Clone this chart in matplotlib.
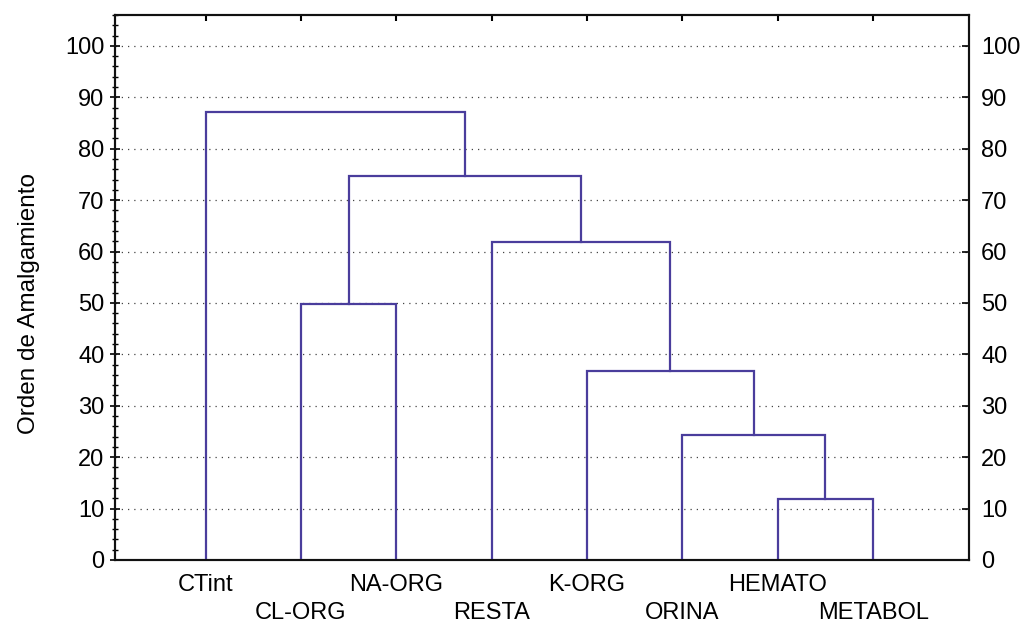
import matplotlib
matplotlib.use("Agg")
import matplotlib.pyplot as plt
from matplotlib.ticker import MultipleLocator

plt.rcParams["font.family"] = ["Liberation Sans", "DejaVu Sans"]

# leaves in dendrogram order
leaves = ["CTint", "CL-ORG", "NA-ORG", "RESTA", "K-ORG", "ORINA", "HEMATO", "METABOL"]
# merges: (left node, right node); nodes 0-7 are leaves, 8+ are new clusters
merges = [(6, 7), (5, 8), (4, 9), (1, 2), (3, 10), (11, 12), (0, 13)]
merge_heights = [11.8, 24.3, 36.8, 49.7, 61.8, 74.6, 87.2]
y_ticks = [0, 10, 20, 30, 40, 50, 60, 70, 80, 90, 100]
y_label = "Orden de Amalgamiento"

line_color = "#4a3d9c"

fig = plt.figure(figsize=(10.26, 6.25), dpi=100)
ax = fig.add_axes([0.112, 0.104, 0.832, 0.872])

pos = {i: i + 1 for i in range(len(leaves))}
height = {i: 0.0 for i in range(len(leaves))}
for k, ((a, b), h) in enumerate(zip(merges, merge_heights)):
    node = len(leaves) + k
    ax.plot([pos[a], pos[a], pos[b], pos[b]], [height[a], h, h, height[b]],
            color=line_color, lw=1.6, solid_joinstyle="miter", zorder=3)
    pos[node] = (pos[a] + pos[b]) / 2
    height[node] = h

ax.set_xlim(0.05, 9.0)
ax.set_ylim(0, 106)

# dotted grid
for y in y_ticks[1:]:
    ax.axhline(y, color="#444444", lw=0.9, ls=(0, (1, 4)), zorder=1)

ax.set_yticks(y_ticks)
ax.yaxis.set_minor_locator(MultipleLocator(2))
ax.tick_params(axis="y", which="major", direction="inout", length=7, width=1.2,
               labelsize=17, pad=4)
ax.tick_params(axis="y", which="minor", direction="inout", length=4, width=1.0)

ax.set_xticks(range(1, len(leaves) + 1))
ax.set_xticklabels(leaves, fontsize=17)
ax.tick_params(axis="x", bottom=False, top=True, direction="in", length=4, width=1.5)
for i, t in enumerate(ax.xaxis.get_major_ticks()):
    t.set_pad(10 if i % 2 == 0 else 30)

ax.set_ylabel(y_label, fontsize=17.5)
ax.yaxis.set_label_coords(-0.088, 0.47)

ax2 = ax.twinx()
ax2.set_ylim(ax.get_ylim())
ax2.set_yticks(y_ticks)
ax2.tick_params(axis="y", direction="in", length=5, width=1.2, labelsize=17, pad=9)

for a in (ax, ax2):
    for s in a.spines.values():
        s.set_linewidth(1.5)
        s.set_color("#111111")

fig.savefig("out.png", dpi=100)
